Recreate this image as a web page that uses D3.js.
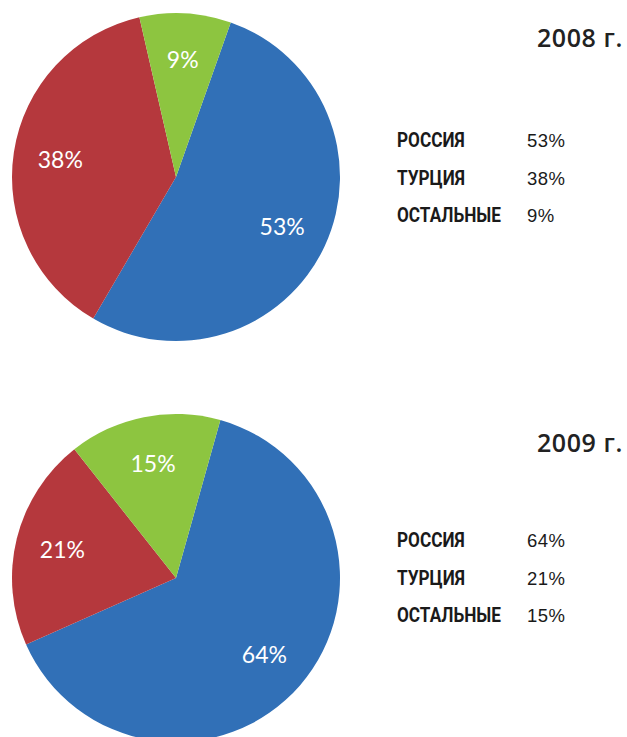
<!DOCTYPE html>
<html>
<head>
<meta charset="utf-8">
<script src="https://cdn.jsdelivr.net/npm/d3@7"></script>
<style>
  html, body { margin: 0; padding: 0; background: #fff; overflow: hidden; }
  svg { display: block; }
</style>
</head>
<body>
<svg id="chart" width="627" height="737"></svg>
<script>
const categories = ["РОССИЯ", "ТУРЦИЯ", "ОСТАЛЬНЫЕ"];
const years = ["2008 г.", "2009 г."];
const values2008 = [53, 38, 9];
const values2009 = [64, 21, 15];
const colors = ["#3170B7", "#B5383D", "#8DC540"];

const svg = d3.select("#chart");
const R = 164;

const panels = [
  { title: years[0], values: values2008, cx: 176, cy: 177, start: 19.5, titleY: 47, legendY: 147 },
  { title: years[1], values: values2009, cx: 176, cy: 578, start: 15.7, titleY: 452, legendY: 547 }
];

const arc = d3.arc().innerRadius(0).outerRadius(R);
const labelArc = d3.arc().innerRadius(117).outerRadius(117);
const color = d3.scaleOrdinal().domain(categories).range(colors);

const catFont = "Roboto, 'Liberation Sans', sans-serif";
const probe = svg.append("text").style("font-family", catFont).style("font-size", "20.5px")
  .style("font-weight", "bold").text(categories[2]);
const kCond = 104 / probe.node().getComputedTextLength();
probe.remove();

panels.forEach(p => {
  const a0 = p.start * Math.PI / 180;
  const pie = d3.pie().sort(null).value(d => d.v).startAngle(a0).endAngle(a0 + 2 * Math.PI);
  const data = pie(categories.map((c, i) => ({ c, v: p.values[i] })));
  const g = svg.append("g").attr("transform", `translate(${p.cx},${p.cy})`);
  g.selectAll("path").data(data).join("path")
    .attr("d", arc)
    .attr("fill", d => color(d.data.c));
  g.selectAll("text").data(data).join("text")
    .attr("transform", d => `translate(${labelArc.centroid(d)})`)
    .attr("text-anchor", "middle")
    .attr("dy", "0.36em")
    .attr("fill", "#fff")
    .style("font-family", "Lato, 'Open Sans', sans-serif")
    .style("font-size", "23px")
    .text(d => d.data.v + "%");

  svg.append("text")
    .attr("x", 623).attr("y", p.titleY)
    .attr("text-anchor", "end")
    .attr("fill", "#222")
    .style("font-family", "'Open Sans', sans-serif")
    .style("font-size", "25px")
    .style("font-weight", "600")
    .style("letter-spacing", "0.6px")
    .text(p.title);

  const lg = svg.append("g");
  categories.forEach((c, i) => {
    const y = p.legendY + i * 37.5;
    const t = lg.append("text")
      .attr("x", 397).attr("y", y)
      .attr("fill", "#1a1a1a")
      .style("font-family", catFont)
      .style("font-size", "20.5px")
      .style("font-weight", "bold")
      .text(c);
    const w = t.node().getComputedTextLength();
    t.attr("textLength", w * kCond).attr("lengthAdjust", "spacingAndGlyphs");
    lg.append("text")
      .attr("x", 527).attr("y", y)
      .attr("fill", "#1a1a1a")
      .style("font-family", "'Liberation Sans', sans-serif")
      .style("font-size", "18.5px")
      .style("letter-spacing", "0.4px")
      .text(p.values[i] + "%");
  });
});
</script>
</body>
</html>
